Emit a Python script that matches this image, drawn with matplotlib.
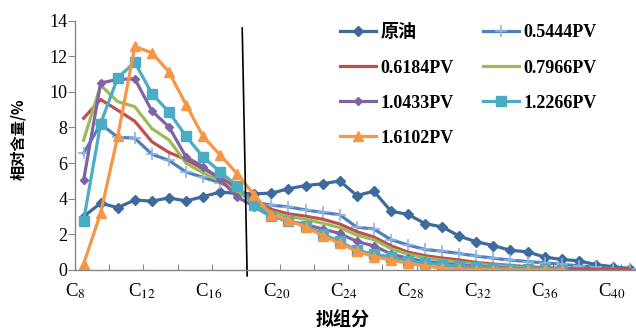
import matplotlib
matplotlib.use("Agg")
import matplotlib.pyplot as plt
from matplotlib.font_manager import FontProperties

plt.rcParams['font.family'] = ['Liberation Serif', 'Noto Sans CJK SC']
plt.rcParams['mathtext.fontset'] = 'stix'

# relative content (%) per pseudo-component, C8 .. C40
crude = [3.0, 3.75, 3.5, 3.93, 3.86, 4.05, 3.87, 4.12, 4.37, 4.3, 4.28, 4.31, 4.56,
         4.74, 4.84, 5.0, 4.18, 4.42, 3.3, 3.12, 2.6, 2.42, 1.9, 1.58, 1.37, 1.1,
         1.02, 0.72, 0.59, 0.51, 0.3, 0.18, 0.08]
pv_05444 = [6.55, 8.2, 7.45, 7.4, 6.5, 6.15, 5.5, 5.2, 4.9, 4.45, 3.8, 3.64, 3.54,
            3.37, 3.23, 3.1, 2.4, 2.3, 1.7, 1.4, 1.15, 1.05, 0.92, 0.78, 0.66, 0.55,
            0.47, 0.4, 0.32, 0.23, 0.15, 0.08, 0.03]
pv_06184 = [8.52, 9.57, 8.97, 8.35, 7.2, 6.6, 6.2, 5.68, 5.2, 4.6, 3.9, 3.4, 3.15,
            3.02, 2.85, 2.58, 2.15, 1.85, 1.36, 1.0, 0.8, 0.67, 0.56, 0.42, 0.33,
            0.25, 0.18, 0.13, 0.09, 0.06, 0.04, 0.03, 0.02]
pv_07966 = [7.28, 10.37, 9.45, 9.17, 7.94, 7.3, 6.0, 5.45, 5.0, 4.4, 3.75, 3.25,
            3.0, 2.85, 2.62, 2.38, 1.95, 1.7, 1.2, 0.88, 0.68, 0.55, 0.43, 0.33,
            0.25, 0.18, 0.12, 0.08, 0.05]
pv_10433 = [5.03, 10.5, 10.7, 10.73, 8.93, 8.03, 6.35, 5.8, 5.08, 4.1, 3.55, 3.0,
            2.75, 2.55, 2.3, 2.05, 1.6, 1.35, 0.9, 0.65, 0.48, 0.36, 0.27, 0.2,
            0.14, 0.1, 0.07, 0.05, 0.03]
pv_12266 = [2.77, 8.22, 10.8, 11.66, 9.9, 8.87, 7.5, 6.35, 5.5, 4.72, 3.62, 3.05,
            2.75, 2.47, 2.02, 1.6, 1.1, 0.9, 0.72, 0.52, 0.38, 0.28, 0.2, 0.14,
            0.1, 0.07, 0.05, 0.03, 0.02]
pv_16102 = [0.33, 3.2, 7.5, 12.55, 12.2, 11.12, 9.28, 7.5, 6.45, 5.4, 4.2, 3.1,
            2.8, 2.4, 1.93, 1.5, 1.05, 0.75, 0.55, 0.38, 0.22, 0.1, 0.04, 0.02,
            0.01, 0.0, 0.0, 0.0, 0.0]

carbon_labels = [8, 12, 16, 20, 24, 28, 32, 36, 40]
yticks = [0, 2, 4, 6, 8, 10, 12, 14]

fig = plt.figure(figsize=(6.36, 3.28), dpi=100)
ax = fig.add_axes([0.118, 0.177, 0.886, 0.760])

lw = 2.3
series = [
    ('原油', crude, '#3D6B9E', 'D', 5),
    ('0.5444PV', pv_05444, '#4F81BD', '+', 8),
    ('0.6184PV', pv_06184, '#C0504D', None, 0),
    ('0.7966PV', pv_07966, '#9BBB59', None, 0),
    ('1.0433PV', pv_10433, '#8064A2', 'D', 4.5),
    ('1.2266PV', pv_12266, '#4BACC6', 's', 6.5),
    ('1.6102PV', pv_16102, '#F79646', '^', 6.5),
]

handles = {}
for name, vals, col, mk, ms in series:
    x = list(range(len(vals)))
    if mk == '+':
        h, = ax.plot(x, vals, color=col, lw=lw, marker=mk, ms=ms,
                     mec='#8DB4E2', mew=1.2, label=name)
    elif mk is None:
        h, = ax.plot(x, vals, color=col, lw=lw, label=name)
    else:
        h, = ax.plot(x, vals, color=col, lw=lw, marker=mk, ms=ms,
                     mec=col, mfc=col, label=name)
    handles[name] = h

# vertical separator
ax.plot([9.29, 9.58], [13.59, -0.33], color='black', lw=1.2, clip_on=False)

ax.set_xlim(-0.5, 32.5)
ax.set_ylim(0, 14)
ax.set_yticks(yticks)
ax.set_yticklabels([str(v) for v in yticks], fontsize=13)
ax.set_xticks([-0.5 + 2 * k for k in range(17)])
ax.set_xticklabels([])

for s in ['top', 'right']:
    ax.spines[s].set_visible(False)
for s in ['left', 'bottom']:
    ax.spines[s].set_color('#868686')
    ax.spines[s].set_linewidth(1.0)
ax.tick_params(axis='y', direction='out', length=5, color='#868686', pad=0.5)
ax.tick_params(axis='x', direction='in', length=4, color='#868686')

for k, c in enumerate(carbon_labels):
    ax.text(-0.5 + 3.93 * k, -0.045, 'C$_{%d}$' % c, transform=ax.get_xaxis_transform(),
            ha='center', va='top', fontsize=13.5)

fig.text(0.539, -0.004, '拟组分', ha='center', va='bottom', fontsize=13,
         fontweight='bold', family=['Noto Sans CJK SC'])
fig.text(0.028, 0.575, '相对含量/%', ha='center', va='center', rotation=90,
         fontsize=11, fontweight='bold', family=['Noto Sans CJK SC'])

order = ['原油', '0.6184PV', '1.0433PV', '1.6102PV', '0.5444PV', '0.7966PV', '1.2266PV']
leg_font = FontProperties(family=['Liberation Serif', 'Noto Sans CJK SC'],
                          weight='bold', size=13)
ax.legend([handles[n] for n in order], order, ncol=2, prop=leg_font,
          loc='upper left', bbox_to_anchor=(0.441, 1.05), frameon=False,
          handlelength=2.0, handletextpad=0.25, labelspacing=1.0,
          columnspacing=1.6)

fig.savefig('out.png', dpi=100)
